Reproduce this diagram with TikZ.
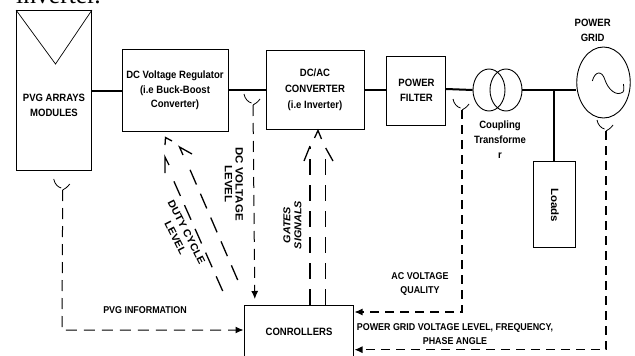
\documentclass[tikz,border=0pt]{standalone}
\usepackage{fontspec}
\setmainfont[FakeStretch=0.9]{Liberation Sans}
\newfontfamily\serifpart{Liberation Serif}
\newfontfamily\widesans[FakeStretch=1.08]{Liberation Sans}
\usetikzlibrary{arrows.meta,shapes.geometric}
\tikzset{
  x=1pt,y=-1pt,
  blockbox/.style={draw=black,line width=0.9pt,inner sep=0pt,fill=white},
  coil/.style={draw=black,line width=0.9pt,ellipse,inner sep=0pt,minimum width=32pt,minimum height=42pt},
  bus/.style={line width=2pt,black},
  lbl/.style={font=\fontsize{10.6}{15}\selectfont\bfseries,align=center,inner sep=0pt,text=black},
  lblsmall/.style={lbl,font=\fontsize{9.9}{14}\selectfont\bfseries},
  sensorarc/.style={line width=0.8pt,black},
  sig/.style={line width=1.1pt,dash pattern=on 9pt off 6pt},
  sigv/.style={line width=1pt,dash pattern=on 11pt off 7pt},
  longdash/.style={line width=1.3pt,dash pattern=on 16pt off 10pt},
  tip/.style={-{Latex[length=8pt,width=7pt]}},
  barb/.style={line width=1.3pt,black,line join=miter}
}
\newcommand{\sensorat}[1]{%
  \draw[sensorarc] ([shift={(-9,-11)}]#1) .. controls ([shift={(-8,-6)}]#1) and ([shift={(-5,-3)}]#1) .. ([shift={(-1.5,-2)}]#1);
  \draw[sensorarc] ([shift={(7,-6)}]#1) .. controls ([shift={(5,-3)}]#1) and ([shift={(2,-1)}]#1) .. (#1);
}
\begin{document}
\begin{tikzpicture}
\useasboundingbox (0,0) rectangle (635,356);
\clip (0,0) rectangle (635,356);

\node[anchor=base west,inner sep=0pt,font=\fontsize{25.6}{26}\selectfont\serifpart] (title) at (16,3.5) {inverter.};

% blocks
\node[blockbox,minimum width=75pt,minimum height=159.5pt] (pv) at (54,90.25) {};
\node[blockbox,minimum width=106pt,minimum height=81.5pt] (reg) at (175,90.25) {};
\node[blockbox,minimum width=98.5pt,minimum height=79.5pt] (inv) at (315.25,89.75) {};
\node[blockbox,minimum width=59pt,minimum height=69.5pt] (filt) at (416,90.75) {};
\node[blockbox,minimum width=42pt,minimum height=86.5pt] (load) at (554.5,204.5) {};
\node[blockbox,minimum width=108.5pt,minimum height=70pt] (ctrl) at (299,340) {};
\node[coil] (t1) at (489,90) {};
\node[coil,fill=none] (t2) at (506,90) {};
\node[draw=black,line width=0.9pt,ellipse,inner sep=0pt,minimum width=53.5pt,minimum height=71pt] (grid) at (603.5,82.5) {};

% PV triangle
\draw[line width=0.7pt] (pv.north west) -- (55.5,64) -- (pv.north east);
% AC symbol
\draw[line width=0.8pt] (592.3,81) .. controls (595,71) and (602,70) .. (605,80) .. controls (608,89) and (616,97) .. (623,92) .. controls (624.5,90) and (623.5,86) .. (623.5,84);

% busbars
\coordinate (tee) at (553.7,89.5);
\draw[bus] (pv.east |- 0,90.5) -- (reg.west |- 0,90.5);
\draw[bus] (reg.east |- 0,89.5) -- (inv.west |- 0,89.5);
\draw[bus] (inv.east |- 0,89.5) -- (filt.west |- 0,89.5);
\draw[bus] (filt.east |- 0,89) -- (t1.west);
\draw[bus] (t2.east |- 0,89.5) -- (grid.west |- 0,89.5);
\draw[bus] (tee) -- (load.north -| tee);

% sensor points
\coordinate (s1) at (253,105);
\coordinate (s2) at (62.7,190);
\coordinate (s3) at (462,110);
\coordinate (s4) at (606,131);
\sensorat{s1}
\sensorat{s2}
\sensorat{s3}
\sensorat{s4}

% feedback to controllers
\coordinate (c1) at (254.8,299);
\coordinate (pvturn) at (62,330);
\coordinate (c2) at (243.5,330);
\coordinate (acturn) at (462,312);
\coordinate (c3) at (354.5,312);
\coordinate (gridturn) at (606,349.7);
\coordinate (c4) at (354.5,349.7);
\draw[sigv,tip] (s1) -- (c1);
\draw[sigv,tip] (s2) -- (pvturn) -- (c2);
\draw[sig,tip] (s3) -- (acturn) -- (c3);
\draw[sig,tip] (s4) -- (gridturn) -- (c4);

% gate signals (controller to inverter)
\coordinate (g1) at (310,147);
\coordinate (g2) at (325.7,149);
\draw[longdash] (ctrl.north -| g1) -- (g1);
\draw[longdash] (ctrl.north -| g2) -- (g2);
\draw[barb] (304,161) -- (310,146);
\draw[barb] (333,161) -- (325.7,148);
\draw[barb] (314.5,138) -- (318,130.5) -- (321.5,139);

% duty cycle (controller to regulator)
\coordinate (d1a) at (222.7,291);
\coordinate (d1b) at (172,177);
\coordinate (d2a) at (237.7,280);
\coordinate (d2b) at (188,165);
\draw[longdash] (d1a) -- (d1b);
\draw[longdash] (d2a) -- (d2b);
\draw[barb] (172,141) -- (165.5,137.5) -- (165,145);
\draw[barb] (165,173) -- (165,157) -- (169,165);
\draw[barb] (192,154) -- (179.5,147) -- (183,155);

% labels
\node[lbl] (tpv) at (54,105) {PVG ARRAYS\\MODULES};
\node[lbl,font=\fontsize{10.6}{14.5}\selectfont\bfseries] (treg) at (175,90.5) {DC Voltage Regulator\\(i.e Buck-Boost\\Converter)};
\node[lbl,font=\fontsize{10.6}{16}\selectfont\bfseries] (tinv) at (315,89.5) {DC/AC\\CONVERTER\\(i.e Inverter)};
\node[lbl] (tfilt) at (416.5,90) {POWER\\FILTER};
\node[lbl] (ttr) at (500,140) {Coupling\\Transforme\\r};
\node[lbl] (tgrid) at (592.7,30.5) {POWER\\GRID};
\node[lbl,rotate=-90,font=\fontsize{10.6}{15}\selectfont\widesans\bfseries] (tload) at (555,205) {Loads};
\node[lbl] (tctrl) at (299,332) {CONROLLERS};
\node[lbl,rotate=-90,font=\fontsize{10.6}{10.8}\selectfont\widesans\bfseries] (tdc) at (234,184) {DC VOLTAGE\\LEVEL};
\node[lbl,rotate=-63,font=\fontsize{10.2}{12.5}\selectfont\widesans\bfseries] (tduty) at (181,235) {DUTY CYCLE\\LEVEL};
\node[lbl,rotate=90,font=\fontsize{10}{11}\selectfont\widesans\bfseries\itshape] (tgates) at (292.5,225) {GATES\\SIGNALS};
\node[lblsmall] (tinfo) at (145,310) {PVG INFORMATION};
\node[lblsmall] (tac) at (420,284) {AC VOLTAGE\\QUALITY};
\node[lblsmall] (tfreq) at (455,334) {POWER GRID VOLTAGE LEVEL, FREQUENCY,\\PHASE ANGLE};
\end{tikzpicture}
\end{document}
